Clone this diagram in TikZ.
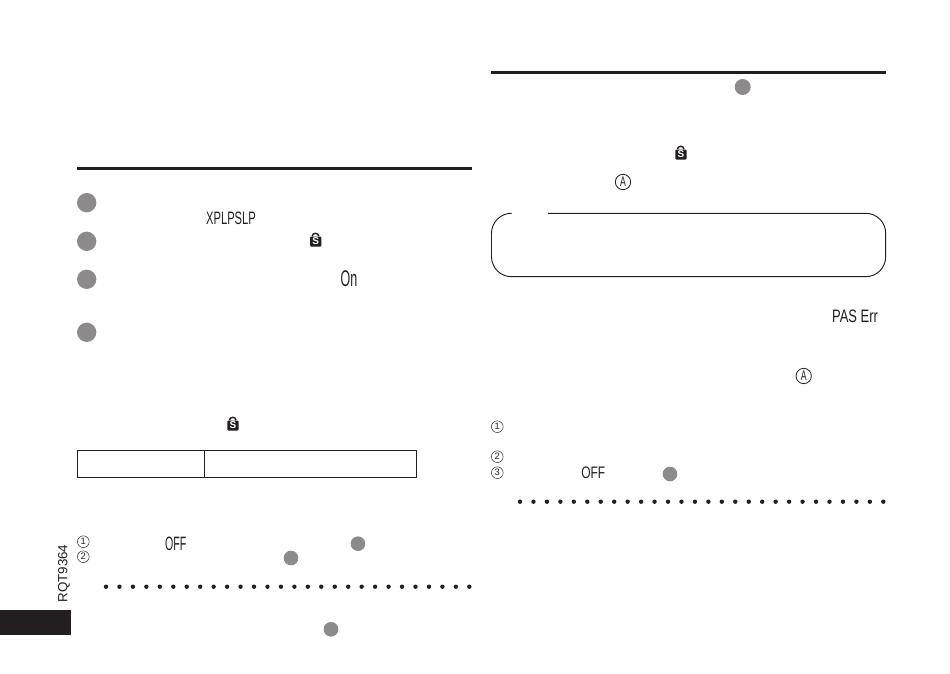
\documentclass[tikz,border=0pt]{standalone}
\usepackage{fontspec}
\setmainfont{Liberation Sans}
\newfontfamily\condfont[FakeStretch=0.62]{Liberation Sans}
\newfontfamily\lcdfont[FakeStretch=0.55]{Liberation Sans}
\newfontfamily\lcdwide[FakeStretch=0.72]{Liberation Sans}
\definecolor{bullet}{HTML}{8C8A8B}
\definecolor{ink}{HTML}{231F20}
\tikzset{
  bigdot/.style={circle, fill=bullet, minimum size=14.5pt, inner sep=0pt},
  smalldot/.style={circle, fill=bullet, minimum size=11pt, inner sep=0pt},
  leader/.style={circle, fill=ink, minimum size=3.3pt, inner sep=0pt},
  digit/.style={circle, draw=ink, line width=0.35pt, minimum size=8.8pt, inner sep=0pt, text=ink, font=\fontsize{7}{7}\selectfont},
  letter/.style={circle, draw=ink, line width=0.6pt, minimum size=11.5pt, inner sep=0pt, text=ink, font=\condfont\fontsize{10.5}{10.5}\selectfont},
  lcd/.style={text=ink, inner sep=0pt},
  cell/.style={draw=ink, line width=0.7pt, minimum height=20.25pt, inner sep=0pt},
  lockbody/.style={fill=ink, rounded corners=0.8pt, minimum width=8.5pt, minimum height=7.5pt, inner sep=0pt, text=white, font=\bfseries\fontsize{7.5}{7.5}\selectfont}
}
\begin{document}
\begin{tikzpicture}[x=0.75pt, y=-0.75pt]
  \useasboundingbox (0,0) rectangle (950,674);
  % section rules
  \fill[ink] (77,166.6) rectangle (472,170);
  \fill[ink] (491,70.6) rectangle (886,74);
  % left steps
  \node[bigdot] (stepa) at (86.7,202.7) {};
  \node[bigdot] (stepb) at (86.7,241.3) {};
  \node[bigdot] (stepc) at (86.7,279.3) {};
  \node[bigdot] (stepd) at (86.7,332.3) {};
  \node[lcd, font=\condfont\fontsize{13.5}{13.5}\selectfont] (model) at (231,218) {XPLPSLP};
  \node[lcd, font=\lcdfont\fontsize{17}{17}\selectfont] (dispon) at (349,279) {On};
  % lock icons
  \foreach \name/\x/\y in {locka/315.7/240, lockb/233/424, lockc/681/153} {
    \node[lockbody] (\name) at (\x,\y+1.5) {S};
    \draw[ink, line width=1.1pt] (\name.north west) ++(1.8pt,0) arc[start angle=180, end angle=0, x radius=2.45pt, y radius=2.2pt];
  }
  % table
  \node[cell, minimum width=95.3pt, anchor=north west] (cella) at (77.3,450.3) {};
  \node[cell, minimum width=159pt, anchor=north west] (cellb) at (204.3,450.3) {};
  % left list
  \node[digit] (numa) at (83.3,541.7) {1};
  \node[digit] (numb) at (83.3,556.7) {2};
  \node[lcd, font=\lcdfont\fontsize{14.5}{14.5}\selectfont] (offa) at (175.7,544) {OFF};
  \node[smalldot] (refa) at (358,543.7) {};
  \node[smalldot] (refb) at (291,558) {};
  \node[smalldot] (refc) at (331,629.3) {};
  \node[rotate=90, text=ink, inner sep=0pt, font=\fontsize{10}{10}\selectfont] (code) at (64,573.5) {RQT9364};
  \fill[ink] (0,610) rectangle (70.7,635.3);
  % leader dots
  \foreach \i in {0,...,27} {
    \node[leader] (la\i) at (106+13.456*\i,586.7) {};
    \node[leader] (lb\i) at (520+13.456*\i,501.7) {};
  }
  % right column
  \node[smalldot, minimum size=12pt] (refd) at (742.7,87) {};
  \node[letter] (marka) at (623,182) {A};
  \draw[ink, line width=0.7pt, rounded corners=15pt] (548,213.3) -- (885.7,213.3) -- (885.7,276.7) -- (491.5,276.7) -- (491.5,213.3) -- (508,213.3);
  \node[lcd, font=\lcdwide\fontsize{13.5}{13.5}\selectfont] (errmsg) at (855,316.7) {PAS Err};
  \node[letter] (markb) at (803.7,376) {A};
  \node[digit] (numc) at (497.3,426.7) {1};
  \node[digit] (numd) at (497.3,456.7) {2};
  \node[digit] (nume) at (497.3,472.7) {3};
  \node[lcd, font=\lcdwide\fontsize{12.5}{12.5}\selectfont] (offb) at (593.3,472.7) {OFF};
  \node[smalldot] (refe) at (670,474) {};
\end{tikzpicture}
\end{document}
